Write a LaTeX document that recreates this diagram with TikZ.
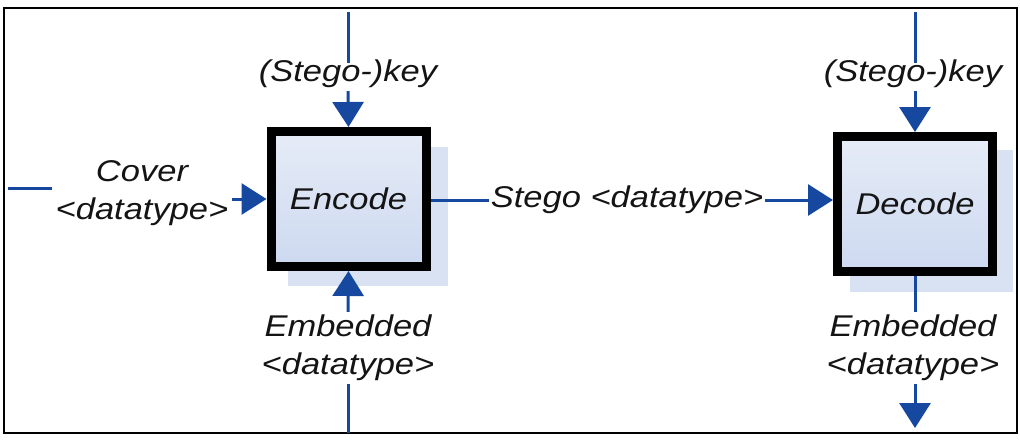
\documentclass[tikz,border=0pt]{standalone}
\usepackage{fontspec}
\newfontfamily\labfont{Liberation Sans}[FakeStretch=1.15]
\usetikzlibrary{arrows.meta,shadows}
\definecolor{lnblue}{RGB}{22,72,160}
\definecolor{boxtop}{RGB}{230,236,247}
\definecolor{boxbot}{RGB}{205,217,240}
\definecolor{shadowblue}{RGB}{216,226,243}
\definecolor{txt}{RGB}{20,20,20}
\tikzset{
  lab/.style={font=\labfont\itshape\fontsize{30}{38}\selectfont, text=txt, align=center, inner sep=3pt},
  procbox/.style={draw=black, line width=9pt, minimum width=155pt, minimum height=135pt,
    top color=boxtop, bottom color=boxbot, font=\labfont\itshape\fontsize{30}{36}\selectfont, text=txt},
  wire/.style={draw=lnblue, line width=3pt},
  arr/.style={wire, -{Triangle[length=25pt,width=31pt]}},
}
\begin{document}
\begin{tikzpicture}[x=1pt,y=-1pt]
\useasboundingbox (0,0) rectangle (1020,440);
\draw[line width=2pt, black] (4,8) rectangle (1017,433);
% shadows
\fill[shadowblue] (288,147) rectangle (448,286);
\fill[shadowblue] (850,150) rectangle (1013,292);
% boxes
\node[procbox] (enc) at (348.5,199) {Encode};
\node[procbox] (dec) at (915,204) {Decode};
% encode inputs
\node[lab] (eklbl) at (348,74) {(Stego-)key};
\coordinate (ektop) at (348,12);
\path[wire] (ektop) -- ([yshift=-6pt]eklbl.north);
\path[arr] (eklbl.south) -- (enc.north);
\node[lab] (covlbl) at (142,193) {Cover\\\textless datatype\textgreater};
\coordinate (covleft) at (8,188);
\path[wire] (covleft) -- (covleft -| covlbl.west);
\path[arr] (covlbl.east |- enc.west) -- (enc.west);
\node[lab] (emlbl) at (348,348) {Embedded\\\textless datatype\textgreater};
\coordinate (embot) at (348,433);
\path[arr] (emlbl.north) -- (enc.south);
\path[wire] (emlbl.south) -- (embot);
% stego
\node[lab, inner sep=2pt] (stlbl) at (627,200) {Stego \textless datatype\textgreater};
\path[wire] (enc.east |- stlbl.west) -- (stlbl.west);
\path[arr] (stlbl.east) -- (dec.west |- stlbl.east);
% decode
\node[lab] (dklbl) at (913,74) {(Stego-)key};
\coordinate (dktop) at (915,12);
\path[wire] (dktop) -- ([yshift=-6pt]dklbl.north -| dktop);
\path[arr] (dklbl.south -| dktop) -- (dec.north);
\node[lab] (dmlbl) at (913,348) {Embedded\\\textless datatype\textgreater};
\coordinate (dmbot) at (915,428);
\path[wire] (dec.south) -- (dmlbl.north -| dec.south);
\path[arr] (dmlbl.south -| dmbot) -- (dmbot);
\end{tikzpicture}
\end{document}
